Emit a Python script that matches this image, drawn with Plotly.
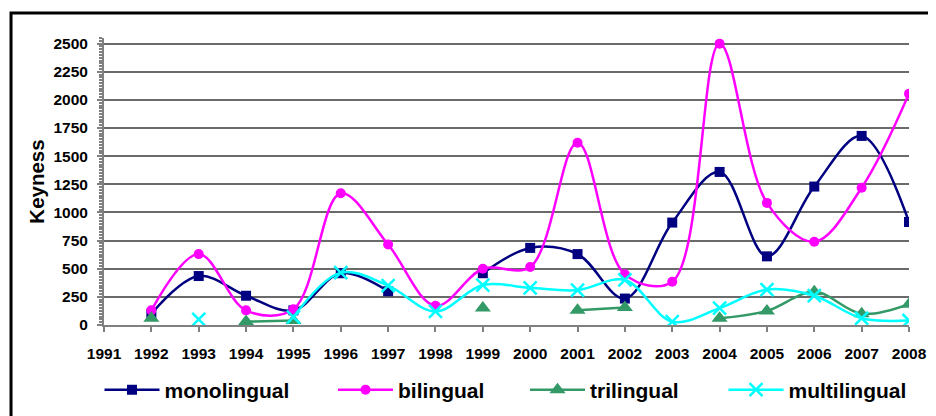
import plotly.graph_objects as go

years = list(range(1991, 2009))
monolingual = [None, 100, 435, 260, 130, 460, 300, None, 460, 685, 630, 235, 910, 1360, 610, 1230, 1680, 915]
bilingual = [None, 130, 630, 130, 140, 1170, 715, 170, 500, 515, 1620, 450, 385, 2500, 1085, 740, 1220, 2055]
trilingual = [None, 60, None, 30, 40, None, None, None, 150, None, 130, 155, None, 60, 125, 295, 100, 185]
multilingual = [None, None, 50, None, 70, 465, 350, 120, 355, 330, 310, 400, 30, 150, 315, 260, 60, 40]

series = [
    ("monolingual", monolingual, "#000080", dict(symbol="square", size=10), "legend"),
    ("bilingual", bilingual, "#FF00FF", dict(symbol="circle", size=10), "legend2"),
    ("trilingual", trilingual, "#339966", dict(symbol="triangle-up", size=14), "legend3"),
    ("multilingual", multilingual, "#00FFFF", dict(symbol="x-thin", size=13), "legend4"),
]

fig = go.Figure()
for name, vals, color, mk, lg in series:
    marker = dict(color=color, **mk)
    if mk["symbol"] == "x-thin":
        marker["line"] = dict(color=color, width=2.5)
    fig.add_trace(go.Scatter(
        x=years, y=vals, name=name, mode="lines+markers",
        line=dict(color=color, width=2.5, shape="spline", smoothing=1),
        marker=marker, connectgaps=False, legend=lg,
    ))

font_family = "Arial, Liberation Sans, sans-serif"
leg_common = dict(orientation="h", yref="container", yanchor="middle", y=0.0637, xanchor="left",
                  bgcolor="rgba(0,0,0,0)", borderwidth=0, itemwidth=55,
                  font=dict(family=font_family, size=21, color="black", weight="bold"))
fig.update_layout(
    width=928, height=408,
    margin=dict(l=96, r=27, t=30, b=91),
    paper_bgcolor="white", plot_bgcolor="white",
    showlegend=True,
    legend=dict(x=-0.0056, **leg_common),
    legend2=dict(x=0.2845, **leg_common),
    legend3=dict(x=0.523, **leg_common),
    legend4=dict(x=0.7696, **leg_common),
    xaxis=dict(
        range=[1991, 2008], tickmode="linear", tick0=1991, dtick=1,
        showgrid=False, zeroline=False, automargin=False,
        showline=True, linecolor="#808080", linewidth=2,
        ticks="outside", ticklen=5, tickcolor="#808080", tickwidth=1.5,
        ticklabelstandoff=8,
        tickfont=dict(family=font_family, size=15.5, color="black", weight="bold"),
    ),
    yaxis=dict(
        range=[0, 2550], tickmode="linear", tick0=0, dtick=250,
        showgrid=True, gridcolor="#6a6a6a", gridwidth=1.5, zeroline=False, automargin=False,
        showline=True, linecolor="#808080", linewidth=2,
        ticks="outside", ticklen=5, tickcolor="#808080", tickwidth=1.5,
        ticklabelstandoff=6,
        minor=dict(dtick=25, ticks="outside", ticklen=3, tickcolor="#808080", showgrid=False),
        tickfont=dict(family=font_family, size=15.5, color="black", weight="bold"),
        title=dict(text="Keyness", standoff=3,
                   font=dict(family=font_family, size=20.5, color="black", weight="bold")),
    ),
    shapes=[dict(type="rect", xref="paper", yref="paper",
                 x0=-0.1155, x1=1.06, y0=-0.36, y1=1.0871,
                 line=dict(color="black", width=3), fillcolor="rgba(0,0,0,0)", layer="above")],
)

fig.write_html("out.html")
